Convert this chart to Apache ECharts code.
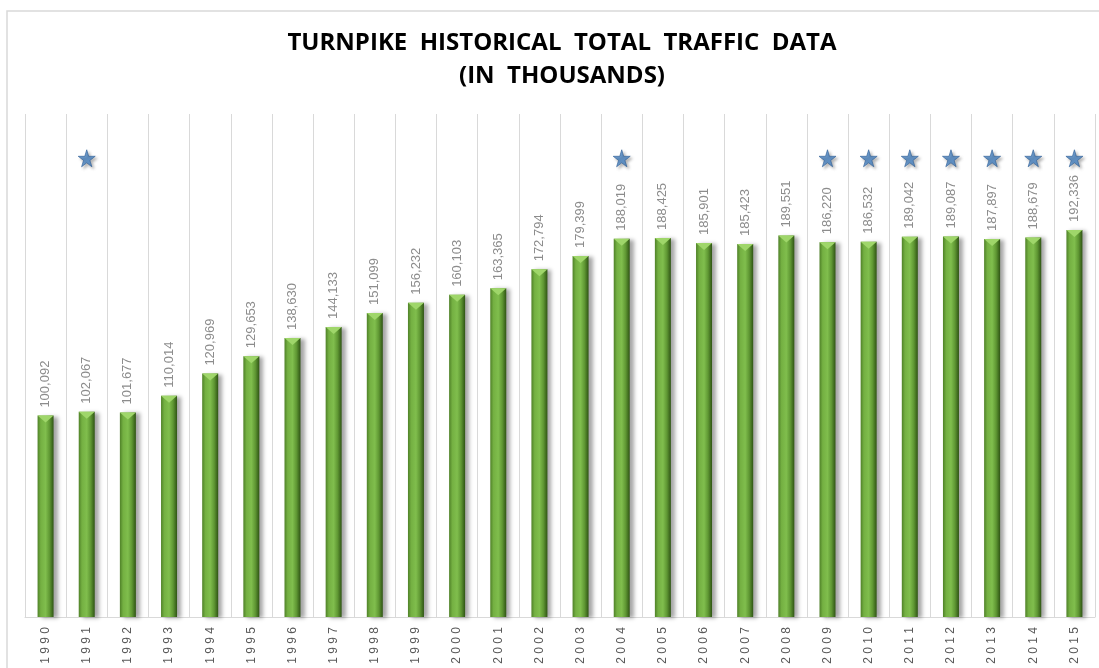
<!DOCTYPE html>
<html>
<head>
<meta charset="utf-8">
<script src="https://cdn.jsdelivr.net/npm/echarts@6/dist/echarts.min.js"></script>
<style>html,body{margin:0;padding:0;background:#fff}#c{width:1099px;height:668px}</style>
</head>
<body>
<div id="c"></div>
<script>
var years = ['1990','1991','1992','1993','1994','1995','1996','1997','1998','1999','2000','2001','2002','2003','2004','2005','2006','2007','2008','2009','2010','2011','2012','2013','2014','2015'];
var traffic = [100092,102067,101677,110014,120969,129653,138630,144133,151099,156232,160103,163365,172794,179399,188019,188425,185901,185423,189551,186220,186532,189042,189087,187897,188679,192336];
var starYears = ['1991','2004','2009','2010','2011','2012','2013','2014','2015'];
var starLevel = 228000;
var yMax = 250000;

var starData = years.map(function (y) { return starYears.indexOf(y) >= 0 ? starLevel : '-'; });
var starPath = 'path://M50,0 L61,35 L98,35 L68,57 L79,91 L50,70 L21,91 L32,57 L2,35 L39,35 Z';

var chart = echarts.init(document.getElementById('c'));
chart.setOption({
  animation: false,
  backgroundColor: '#ffffff',
  title: {
    text: 'TURNPIKE  HISTORICAL  TOTAL  TRAFFIC  DATA\n(IN  THOUSANDS)',
    left: 557,
    top: 22,
    textAlign: 'center',
    textStyle: { fontFamily: 'Open Sans', fontWeight: 'bold', fontSize: 24, lineHeight: 33, color: '#000' }
  },
  graphic: [{
    type: 'rect', shape: { x: 7, y: 11, width: 1110, height: 680 },
    style: { fill: 'none', stroke: '#d9d9d9', lineWidth: 1.5 }, silent: true, z: -1
  }],
  grid: { left: 25, right: 4, top: 114, bottom: 51 },
  xAxis: {
    type: 'category',
    data: years,
    axisLine: { lineStyle: { color: '#d9d9d9' } },
    axisTick: { show: false },
    splitLine: { show: true, lineStyle: { color: '#d9d9d9', width: 1 } },
    axisLabel: {
      rotate: 90, interval: 0, margin: 10, fontSize: 12, color: '#595959', fontFamily: 'Liberation Sans',
      formatter: function (v) { return v.split('').join(' '); }
    }
  },
  yAxis: { type: 'value', min: 0, max: yMax, show: false, splitLine: { show: false } },
  series: [{
    type: 'bar',
    data: traffic,
    barWidth: 16,
    itemStyle: {
      color: new echarts.graphic.LinearGradient(0, 0, 1, 0, [
        { offset: 0, color: '#4f8128' },
        { offset: 0.2, color: '#74b042' },
        { offset: 0.5, color: '#80be4d' },
        { offset: 0.75, color: '#5f9733' },
        { offset: 1, color: '#2f5414' }
      ]),
      shadowColor: 'rgba(0,0,0,0.35)', shadowBlur: 4, shadowOffsetX: 4, shadowOffsetY: 1
    },
    label: {
      show: true, position: 'top', rotate: 90, align: 'left', verticalAlign: 'middle', distance: 8,
      fontSize: 13, color: '#8c8c8c', fontFamily: 'Liberation Sans',
      formatter: function (p) { return p.value.toLocaleString('en-US'); }
    }
  }, {
    type: 'pictorialBar',
    data: traffic,
    symbol: 'triangle',
    symbolRotate: 180,
    symbolSize: [16, 7],
    symbolPosition: 'end',
    barGap: '-100%',
    itemStyle: { color: '#9fd66a' },
    z: 3
  }, {
    type: 'scatter',
    data: starData,
    symbol: starPath,
    symbolSize: 17,
    itemStyle: { color: '#4a86c5', borderColor: '#2f5f95', borderWidth: 0.8, shadowColor: 'rgba(0,0,0,0.35)', shadowBlur: 3, shadowOffsetX: 2, shadowOffsetY: 2 },
    z: 4
  }]
});
</script>
</body>
</html>
